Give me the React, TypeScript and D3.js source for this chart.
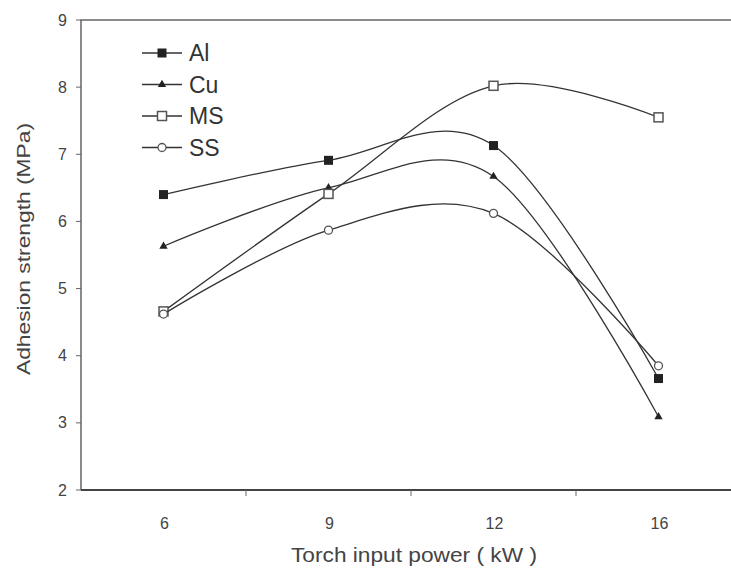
import React, { useEffect, useRef } from "react";
import * as d3 from "d3";

const powers = ["6", "9", "12", "16"];
const alValues = [6.4, 6.91, 7.13, 3.66];
const cuValues = [5.63, 6.5, 6.67, 3.09];
const msValues = [4.66, 6.41, 8.02, 7.55];
const ssValues = [4.62, 5.87, 6.12, 3.85];
const yTicks = [2, 3, 4, 5, 6, 7, 8, 9];

const seriesNames = ["Al", "Cu", "MS", "SS"];

const App = () => {
  const svgRef = useRef<SVGSVGElement>(null);

  useEffect(() => {
    const svg = d3.select(svgRef.current);
    svg.selectAll("*").remove();

    const width = 731;
    const height = 572;
    const margin = { top: 20, right: -10, bottom: 82, left: 81 };
    const font = "'Liberation Sans', Arial, sans-serif";
    const ink = "#333";

    const x = d3
      .scaleBand()
      .domain(powers)
      .range([margin.left, width - margin.right])
      .padding(0);

    const y = d3
      .scaleLinear()
      .domain([2, 9])
      .range([height - margin.bottom, margin.top]);

    const series = [
      { name: "Al", values: alValues },
      { name: "Cu", values: cuValues },
      { name: "MS", values: msValues },
      { name: "SS", values: ssValues },
    ];

    // frame: left axis, bottom axis, top border
    const left = margin.left;
    const right = width - margin.right;
    const top = y(9);
    const bottom = y(2);

    svg
      .append("path")
      .attr("d", `M${left},${bottom}V${top}H${right}`)
      .attr("fill", "none")
      .attr("stroke", "#666")
      .attr("stroke-width", 1.5);
    svg
      .append("line")
      .attr("x1", left)
      .attr("x2", right)
      .attr("y1", bottom)
      .attr("y2", bottom)
      .attr("stroke", "#444")
      .attr("stroke-width", 2);

    // y ticks
    const yAxis = svg.append("g");
    yTicks.forEach((t) => {
      yAxis
        .append("line")
        .attr("x1", left - 5)
        .attr("x2", left)
        .attr("y1", y(t))
        .attr("y2", y(t))
        .attr("stroke", "#666");
      yAxis
        .append("text")
        .attr("x", left - 14)
        .attr("y", y(t))
        .attr("dy", "0.35em")
        .attr("text-anchor", "end")
        .attr("font-family", font)
        .attr("font-size", 16)
        .attr("fill", "#444")
        .text(t);
    });

    // x ticks at band boundaries, labels at band centres
    const xAxis = svg.append("g");
    powers.slice(1).forEach((p) => {
      xAxis
        .append("line")
        .attr("x1", x(p)!)
        .attr("x2", x(p)!)
        .attr("y1", bottom)
        .attr("y2", bottom + 6)
        .attr("stroke", "#666");
    });
    powers.forEach((p) => {
      xAxis
        .append("text")
        .attr("x", x(p)! + x.bandwidth() / 2 + 1)
        .attr("y", bottom + 39)
        .attr("text-anchor", "middle")
        .attr("font-family", font)
        .attr("font-size", 16)
        .attr("fill", "#444")
        .text(p);
    });

    svg
      .append("text")
      .attr("x", 291)
      .attr("y", 562)
      .attr("textLength", 246)
      .attr("lengthAdjust", "spacingAndGlyphs")
      .attr("font-family", font)
      .attr("font-size", 21)
      .attr("fill", "#444")
      .text("Torch input power ( kW )");

    svg
      .append("text")
      .attr("transform", `translate(30,375) rotate(-90)`)
      .attr("textLength", 252)
      .attr("lengthAdjust", "spacingAndGlyphs")
      .attr("font-family", font)
      .attr("font-size", 19)
      .attr("fill", "#444")
      .text("Adhesion strength (MPa)");

    const cx = (i: number) => x(powers[i])! + x.bandwidth() / 2;

    const line = d3
      .line<number>()
      .x((d, i) => cx(i))
      .y((d) => y(d))
      .curve(d3.curveCardinal.tension(0));

    const drawMarker = (g: any, name: string, px: number, py: number) => {
      if (name === "Al") {
        g.append("rect")
          .attr("x", px - 4.5)
          .attr("y", py - 4.5)
          .attr("width", 9)
          .attr("height", 9)
          .attr("fill", "#222");
      } else if (name === "Cu") {
        g.append("path")
          .attr("d", d3.symbol(d3.symbolTriangle, 30)())
          .attr("transform", `translate(${px},${py})`)
          .attr("fill", "#222");
      } else if (name === "MS") {
        g.append("rect")
          .attr("x", px - 4.5)
          .attr("y", py - 4.5)
          .attr("width", 9)
          .attr("height", 9)
          .attr("fill", "white")
          .attr("stroke", "#555")
          .attr("stroke-width", 1.5);
      } else {
        g.append("circle")
          .attr("cx", px)
          .attr("cy", py)
          .attr("r", 4)
          .attr("fill", "white")
          .attr("stroke", "#555")
          .attr("stroke-width", 1.3);
      }
    };

    series.forEach((s) => {
      const g = svg.append("g");
      g.append("path")
        .attr("d", line(s.values))
        .attr("fill", "none")
        .attr("stroke", ink)
        .attr("stroke-width", 1.3);
      s.values.forEach((v, i) => drawMarker(g, s.name, cx(i), y(v)));
    });

    // legend
    const legend = svg.append("g");
    seriesNames.forEach((name, i) => {
      const ly = 53 + i * 31.5;
      legend
        .append("line")
        .attr("x1", 142)
        .attr("x2", 182)
        .attr("y1", ly)
        .attr("y2", ly)
        .attr("stroke", ink)
        .attr("stroke-width", 1.3);
      drawMarker(legend, name, 162, ly);
      legend
        .append("text")
        .attr("x", 189)
        .attr("y", ly)
        .attr("dy", "0.36em")
        .attr("font-family", font)
        .attr("font-size", 23)
        .attr("fill", "#333")
        .text(name);
    });
  }, []);

  return (
    <svg
      ref={svgRef}
      width={731}
      height={572}
      style={{ position: "absolute", left: 0, top: 0, background: "white" }}
    ></svg>
  );
};

export default App;
